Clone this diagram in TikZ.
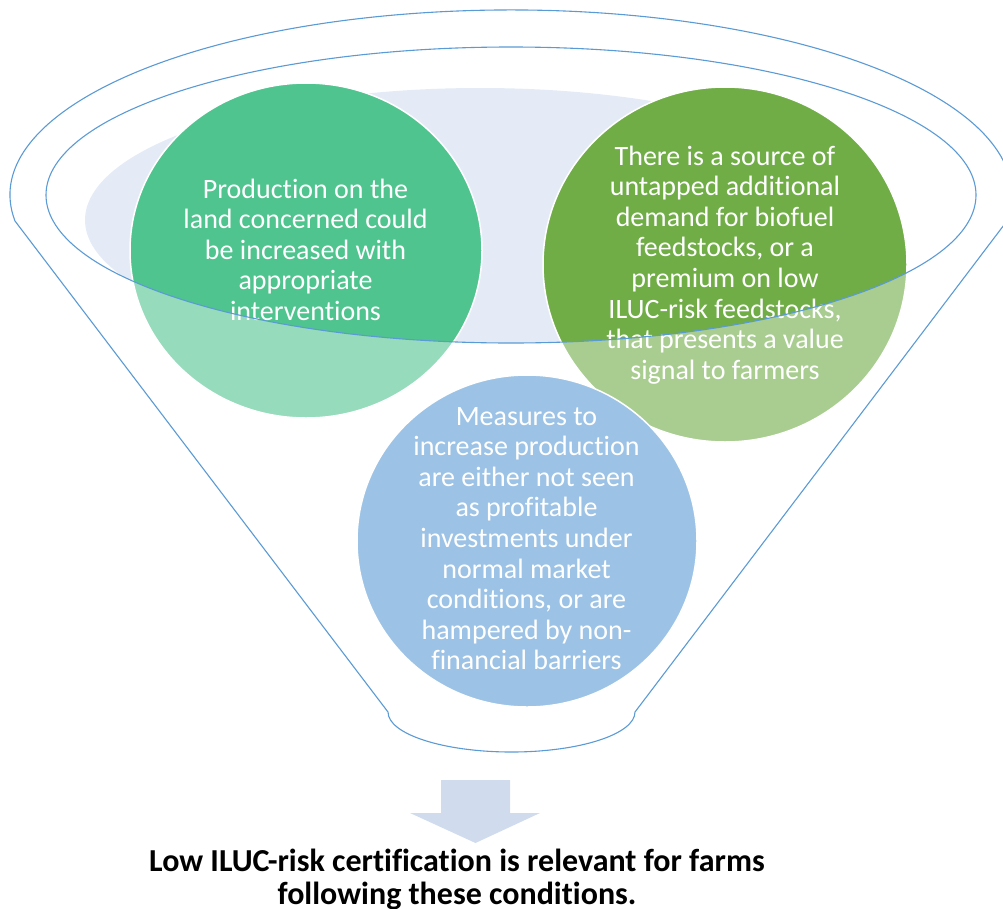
\documentclass[tikz,border=0pt]{standalone}
\usepackage{fontspec}
\setmainfont{Carlito}[Ligatures={NoCommon}]
\definecolor{funnelblue}{RGB}{91,155,213}
\definecolor{bgfill}{RGB}{228,235,246}
\definecolor{cteal}{RGB}{80,196,142}
\definecolor{cgreen}{RGB}{112,173,71}
\definecolor{cblue}{RGB}{91,155,213}
\definecolor{arrowfill}{RGB}{208,220,238}
\newcommand{\ctext}[1]{\begin{tabular}[t]{@{}c@{}}#1\end{tabular}}
\begin{document}
\begin{tikzpicture}[x=1pt,y=-1pt,
  bubble/.style={draw=white,line width=1.5pt},
  bubbletext/.style={anchor=base,inner sep=0pt,text=white,font=\fontsize{28}{30.6}\selectfont},
  outline/.style={draw=funnelblue,line width=1.1pt},
  ]
\useasboundingbox (0,0) rectangle (1003,908);
% inner light fill
\begin{scope}
  \clip (511,195) ellipse [x radius=465, y radius=148];
  \fill[bgfill] (480,220) ellipse [x radius=395, y radius=132];
\end{scope}
% circles
\path[bubble,fill=cteal]  (306,250.5) ellipse [x radius=176, y radius=167.5];
\path[bubble,fill=cgreen] (725,264.5) ellipse [x radius=182, y radius=177.5];
\path[bubble,fill=cblue]  (527,541)   ellipse [x radius=170, y radius=166];
% texts
\node[bubbletext] (t1) at (305.5,198) {\ctext{Production on the\\land concerned could\\be increased with\\appropriate\\interventions}};
\node[bubbletext] (t2) at (725,165) {\ctext{There is a source of\\untapped additional\\demand for biofuel\\feedstocks, or a\\premium on low\\ILUC-risk feedstocks,\\that presents a value\\signal to farmers}};
\node[bubbletext] (t3) at (526.5,425) {\ctext{Measures to\\increase production\\are either not seen\\as profitable\\investments under\\normal market\\conditions, or are\\hampered by non-\\financial barriers}};
% translucent funnel body
\fill[white,opacity=0.4,even odd rule]
  (15,221) arc[start angle=171.9, end angle=368.1, x radius=501, y radius=185]
  -- (635,712) arc[start angle=0, end angle=180, x radius=123.5, y radius=40] -- cycle
  (511,195) ellipse [x radius=465, y radius=148];
% outlines
\path[outline]
  (15,221) arc[start angle=171.9, end angle=368.1, x radius=501, y radius=185]
  -- (635,712) arc[start angle=0, end angle=180, x radius=123.5, y radius=40] -- cycle;
\path[outline] (511,195) ellipse [x radius=465, y radius=148];
% arrow
\fill[arrowfill] (441,780) -- (510,780) -- (510,813) -- (540,813) -- (475.5,843) -- (410,813) -- (441,813) -- cycle;
% bottom text
\node[anchor=base,inner sep=0pt,font=\bfseries\fontsize{32}{33}\selectfont] (res) at (457,871)
  {\ctext{Low ILUC-risk certification is relevant for farms\\following these conditions.}};
\end{tikzpicture}
\end{document}
